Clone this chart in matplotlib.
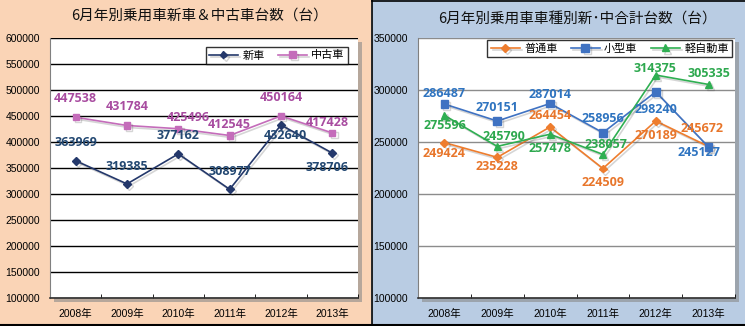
import matplotlib
matplotlib.use("Agg")
import matplotlib.pyplot as plt
import matplotlib.patheffects as pe
from matplotlib.patches import Rectangle
from matplotlib.lines import Line2D
import numpy as np

# データ
annees = ["2008年", "2009年", "2010年", "2011年", "2012年", "2013年"]

shinsha = [363969, 319385, 377162, 308977, 432640, 378706]
chukosha = [447538, 431784, 425496, 412545, 450164, 417428]

futsusha = [249424, 235228, 264454, 224509, 270189, 245672]
kogata = [286487, 270151, 287014, 258956, 298240, 245127]
keijidosha = [275596, 245790, 257478, 238057, 314375, 305335]

titreGauche = "6月年別乗用車新車＆中古車台数（台）"
titreDroite = "6月年別乗用車車種別新･中合計台数（台）"

# décalage des étiquettes (pixels, x / y vers le haut)
decShinsha = [(0, 18), (0, 17), (0, 18), (0, 18), (4, -10), (-5, -14)]
decChukosha = [(0, 19), (0, 19), (10, 11), (0, 11), (0, 18), (-5, 10)]
decFutsu = [(0, -11), (0, -9), (0, 11), (0, -14), (0, -14), (-7, 18)]
decKogata = [(0, 11), (0, 14), (0, 9), (0, 14), (0, -18), (-10, -5)]
decKei = [(0, -10), (7, 10), (0, -14), (3, 10), (-1, 7), (0, 11)]

W, H = 745, 326
fig = plt.figure(figsize=(W / 100, H / 100), dpi=100)
fig.patch.set_facecolor("white")

def px(x0, y0, x1, y1):
    # rectangle en pixels (origine en haut à gauche) -> coordonnées figure
    return [x0 / W, 1 - y1 / H, (x1 - x0) / W, (y1 - y0) / H]

# fonds des deux panneaux
fig.add_artist(Rectangle((0, 0), 371 / W, 1, transform=fig.transFigure,
                         facecolor="#FAD4B6", edgecolor="none", zorder=-5))
fig.add_artist(Rectangle((372 / W, 0), 373 / W, 1, transform=fig.transFigure,
                         facecolor="#B9CCE3", edgecolor="none", zorder=-5))
fig.add_artist(Line2D([371.5 / W, 371.5 / W], [0, 1], transform=fig.transFigure, color="black", lw=1.2))
fig.add_artist(Line2D([0, 1], [0.6 / H, 0.6 / H], transform=fig.transFigure, color="black", lw=1.5))
fig.add_artist(Line2D([372 / W, 1], [1 - 0.6 / H, 1 - 0.6 / H], transform=fig.transFigure, color="black", lw=1.2))

ombre = [pe.SimpleLineShadow(offset=(1.5, -1.5), shadow_color="#444444", alpha=0.22), pe.Normal()]
policeCJK = ["Noto Sans CJK JP", "DejaVu Sans"]
policeTicks = ["Liberation Sans", "Noto Sans CJK JP"]


def panneau(rectPx, ylim, titre, titreXY, series, couleurGrille):
    x0, y0, x1, y1 = rectPx
    # ombre de la zone de tracé
    fig.add_artist(Rectangle(((x0 + 4) / W, 1 - (y1 + 4) / H), (x1 - x0) / W, (y1 - y0) / H,
                             transform=fig.transFigure, facecolor="#8A8A8A",
                             edgecolor="none", alpha=0.6, zorder=-1))
    ax = fig.add_axes(px(x0, y0, x1, y1))
    ax.set_facecolor("white")
    x = np.arange(len(annees))
    for nom, valeurs, couleur, couleurTexte, marqueur, taille, decalages in series:
        ax.plot(x, valeurs, color=couleur, marker=marqueur, markersize=taille, lw=1.2,
                label=nom, path_effects=ombre, zorder=3)
        for xi, v, (dx, dy) in zip(x, valeurs, decalages):
            ax.annotate(str(v), (xi, v), xytext=(dx, dy), textcoords="offset pixels",
                        ha="center", va="center", fontsize=9, fontweight="bold",
                        color=couleurTexte, family=["Open Sans", "DejaVu Sans"], zorder=4)
    ax.set_xlim(-0.5, len(annees) - 0.5)
    ax.set_ylim(*ylim)
    ax.set_yticks(np.arange(ylim[0], ylim[1] + 1, 50000))
    ax.yaxis.grid(True, color=couleurGrille, lw=1)
    ax.set_axisbelow(True)
    ax.set_xticks(x)
    ax.set_xticklabels(annees, family=policeTicks, fontsize=7.5)
    ax.set_xticks(np.arange(-0.5, len(annees), 1), minor=True)
    ax.tick_params(axis="x", which="major", length=0, pad=8)
    ax.tick_params(axis="x", which="minor", length=3, direction="in", color="black")
    ax.tick_params(axis="y", length=0, pad=7)
    for t in ax.get_yticklabels():
        t.set_family(policeTicks)
        t.set_fontsize(7.5)
    for s in ["top", "right"]:
        ax.spines[s].set_visible(False)
    ax.spines["left"].set_color("#808080")
    ax.spines["bottom"].set_color("#303030")
    ax.spines["bottom"].set_linewidth(1.2)
    fig.text(titreXY[0] / W, 1 - titreXY[1] / H, titre, ha="center", va="center",
             fontsize=10.5, family=policeCJK, color="#111111")
    return ax


axG = panneau((50, 38, 358, 298), (100000, 600000), titreGauche, (200, 16), [
    ("新車", shinsha, "#24386B", "#234872", "D", 4, decShinsha),
    ("中古車", chukosha, "#C46CBA", "#A84CA0", "s", 4.5, decChukosha),
], "black")
legG = axG.legend(loc="upper right", bbox_to_anchor=((348 - 50) / 308, (298 - 47) / 260),
                  ncol=2, frameon=True, fancybox=False, borderaxespad=0,
                  prop={"family": policeCJK, "size": 8}, handlelength=2.6,
                  columnspacing=1.2, handletextpad=0.4, borderpad=0.3)
legG.get_frame().set_edgecolor("black")
legG.get_frame().set_linewidth(1)

axD = panneau((418, 38, 735, 298), (100000, 350000), titreDroite, (577, 20), [
    ("普通車", futsusha, "#EE7D2E", "#E8762B", "D", 4, decFutsu),
    ("小型車", kogata, "#3F72C2", "#2F74C0", "s", 5.5, decKogata),
    ("軽自動車", keijidosha, "#2FAF52", "#2DA84E", "^", 5, decKei),
], "#8C8C8C")
legD = axD.legend(loc="upper right", bbox_to_anchor=((732 - 418) / 317, (298 - 40) / 260),
                  ncol=3, frameon=True, fancybox=False, borderaxespad=0,
                  prop={"family": policeCJK, "size": 8}, handlelength=2.6,
                  columnspacing=1.2, handletextpad=0.4, borderpad=0.3)
legD.get_frame().set_edgecolor("black")
legD.get_frame().set_linewidth(1)

plt.savefig("out.png", dpi=100)
